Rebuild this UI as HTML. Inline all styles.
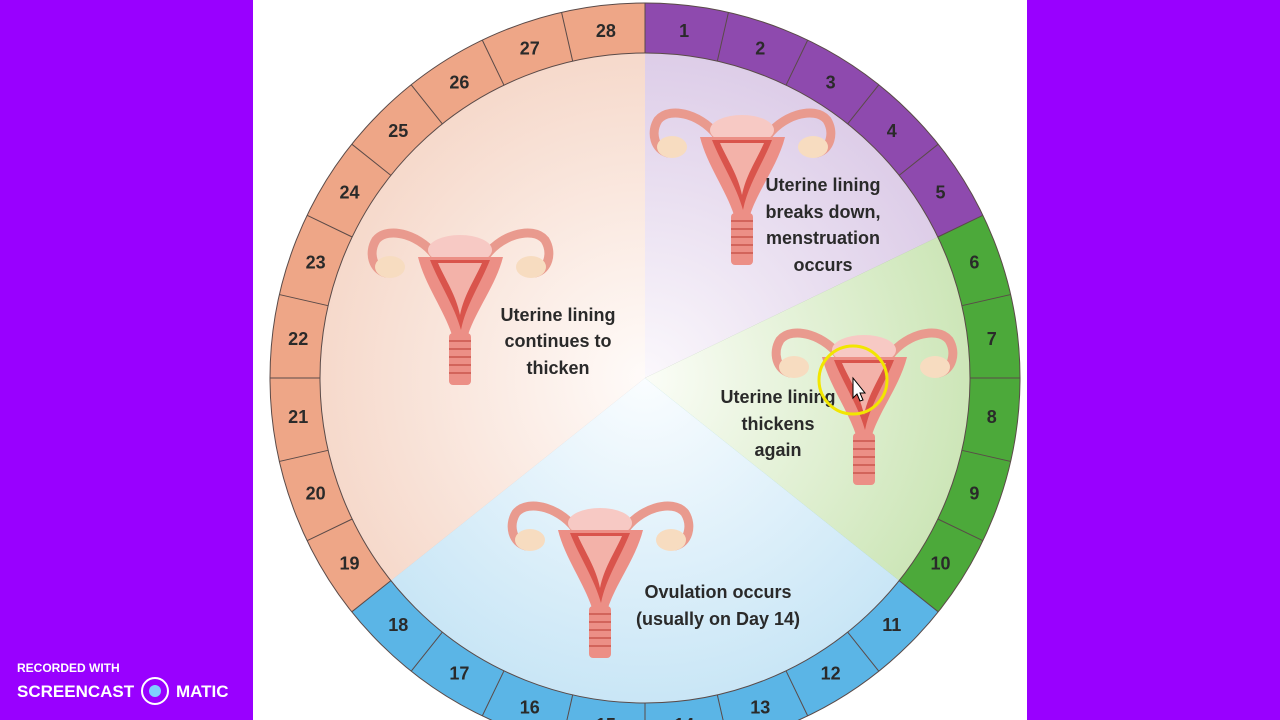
<!DOCTYPE html>
<html><head><meta charset="utf-8"><style>
html,body{margin:0;padding:0;width:1280px;height:720px;overflow:hidden;background:#9900ff;}
svg{display:block}
</style></head><body>
<svg width="1280" height="720" viewBox="0 0 1280 720" xmlns="http://www.w3.org/2000/svg" font-family="Liberation Sans, sans-serif">
<defs>
<radialGradient id="gP" gradientUnits="userSpaceOnUse" cx="645" cy="378" r="325"><stop offset="0" stop-color="#fbf8fc"/><stop offset="1" stop-color="#ddcde8"/></radialGradient>
<radialGradient id="gG" gradientUnits="userSpaceOnUse" cx="645" cy="378" r="325"><stop offset="0" stop-color="#fbfdf7"/><stop offset="1" stop-color="#cde6b8"/></radialGradient>
<radialGradient id="gB" gradientUnits="userSpaceOnUse" cx="645" cy="378" r="325"><stop offset="0" stop-color="#fafdff"/><stop offset="1" stop-color="#c9e6f6"/></radialGradient>
<radialGradient id="gS" gradientUnits="userSpaceOnUse" cx="645" cy="378" r="325"><stop offset="0" stop-color="#fffbf9"/><stop offset="1" stop-color="#f6d9cb"/></radialGradient>
<g id="ut">
 <path d="M70,45 C55,20 20,10 8,25 C0,38 5,55 18,58" fill="none" stroke="#e99a8e" stroke-width="9" stroke-linecap="round"/>
 <path d="M115,45 C130,20 165,10 177,25 C185,38 180,55 167,58" fill="none" stroke="#e99a8e" stroke-width="9" stroke-linecap="round"/>
 <ellipse cx="22" cy="52" rx="15" ry="11" fill="#f7dcc0"/>
 <ellipse cx="163" cy="52" rx="15" ry="11" fill="#f7dcc0"/>
 <ellipse cx="92" cy="35" rx="32" ry="15" fill="#f7c9c4"/>
 <path d="M50,42 L135,42 C128,70 108,95 100,120 L84,120 C76,95 57,70 50,42 Z" fill="#ec8f86"/>
 <path d="M62,45 L122,45 C112,70 98,90 93,115 C86,90 72,70 62,45 Z" fill="#d9544c"/>
 <path d="M70,48 L114,48 C106,66 96,80 92,100 C88,80 78,66 70,48 Z" fill="#f3b2a9"/>
 <rect x="81" y="118" width="22" height="52" rx="4" fill="#ec8f86"/>
 <g stroke="#c9574d" stroke-width="1.5"><line x1="81" y1="126" x2="103" y2="126"/><line x1="81" y1="134" x2="103" y2="134"/><line x1="81" y1="142" x2="103" y2="142"/><line x1="81" y1="150" x2="103" y2="150"/><line x1="81" y1="158" x2="103" y2="158"/></g>
</g>
</defs>
<rect x="253" y="0" width="774" height="720" fill="#fff"/>
<!-- outer ring -->
<path d="M645,378 L645,3 A375,375 0 0 1 982.9,215.3 Z" fill="#8e4aae"/>
<path d="M645,378 L982.9,215.3 A375,375 0 0 1 938.2,611.8 Z" fill="#4ca93a"/>
<path d="M645,378 L938.2,611.8 A375,375 0 0 1 351.8,611.8 Z" fill="#5bb5e6"/>
<path d="M645,378 L351.8,611.8 A375,375 0 0 1 645,3 Z" fill="#eea687"/>
<!-- inner -->
<path d="M645,378 L645,53 A325,325 0 0 1 937.8,237 Z" fill="url(#gP)"/>
<path d="M645,378 L937.8,237 A325,325 0 0 1 899.1,580.6 Z" fill="url(#gG)"/>
<path d="M645,378 L899.1,580.6 A325,325 0 0 1 390.9,580.6 Z" fill="url(#gB)"/>
<path d="M645,378 L390.9,580.6 A325,325 0 0 1 645,53 Z" fill="url(#gS)"/>
<circle cx="645" cy="378" r="325" fill="none" stroke="#5a4a48" stroke-width="1"/>
<circle cx="645" cy="378" r="375" fill="none" stroke="#5a4a48" stroke-width="1"/>
<g stroke="#5a4a48" stroke-width="1">
<line x1="645" y1="3" x2="645" y2="53"/>
<line x1="645" y1="3" x2="645" y2="53" transform="rotate(12.857 645 378)"/>
<line x1="645" y1="3" x2="645" y2="53" transform="rotate(25.714 645 378)"/>
<line x1="645" y1="3" x2="645" y2="53" transform="rotate(38.571 645 378)"/>
<line x1="645" y1="3" x2="645" y2="53" transform="rotate(51.429 645 378)"/>
<line x1="645" y1="3" x2="645" y2="53" transform="rotate(64.286 645 378)"/>
<line x1="645" y1="3" x2="645" y2="53" transform="rotate(77.143 645 378)"/>
<line x1="645" y1="3" x2="645" y2="53" transform="rotate(90 645 378)"/>
<line x1="645" y1="3" x2="645" y2="53" transform="rotate(102.857 645 378)"/>
<line x1="645" y1="3" x2="645" y2="53" transform="rotate(115.714 645 378)"/>
<line x1="645" y1="3" x2="645" y2="53" transform="rotate(128.571 645 378)"/>
<line x1="645" y1="3" x2="645" y2="53" transform="rotate(141.429 645 378)"/>
<line x1="645" y1="3" x2="645" y2="53" transform="rotate(154.286 645 378)"/>
<line x1="645" y1="3" x2="645" y2="53" transform="rotate(167.143 645 378)"/>
<line x1="645" y1="3" x2="645" y2="53" transform="rotate(180 645 378)"/>
<line x1="645" y1="3" x2="645" y2="53" transform="rotate(192.857 645 378)"/>
<line x1="645" y1="3" x2="645" y2="53" transform="rotate(205.714 645 378)"/>
<line x1="645" y1="3" x2="645" y2="53" transform="rotate(218.571 645 378)"/>
<line x1="645" y1="3" x2="645" y2="53" transform="rotate(231.429 645 378)"/>
<line x1="645" y1="3" x2="645" y2="53" transform="rotate(244.286 645 378)"/>
<line x1="645" y1="3" x2="645" y2="53" transform="rotate(257.143 645 378)"/>
<line x1="645" y1="3" x2="645" y2="53" transform="rotate(270 645 378)"/>
<line x1="645" y1="3" x2="645" y2="53" transform="rotate(282.857 645 378)"/>
<line x1="645" y1="3" x2="645" y2="53" transform="rotate(295.714 645 378)"/>
<line x1="645" y1="3" x2="645" y2="53" transform="rotate(308.571 645 378)"/>
<line x1="645" y1="3" x2="645" y2="53" transform="rotate(321.429 645 378)"/>
<line x1="645" y1="3" x2="645" y2="53" transform="rotate(334.286 645 378)"/>
<line x1="645" y1="3" x2="645" y2="53" transform="rotate(347.143 645 378)"/>
</g>
<g font-size="18" font-weight="bold" fill="#2a2a2a" text-anchor="middle">
<g transform="rotate(6.43 645 378)"><text x="645" y="35" transform="rotate(-6.43 645 29)">1</text></g>
<g transform="rotate(19.29 645 378)"><text x="645" y="35" transform="rotate(-19.29 645 29)">2</text></g>
<g transform="rotate(32.14 645 378)"><text x="645" y="35" transform="rotate(-32.14 645 29)">3</text></g>
<g transform="rotate(45 645 378)"><text x="645" y="35" transform="rotate(-45 645 29)">4</text></g>
<g transform="rotate(57.86 645 378)"><text x="645" y="35" transform="rotate(-57.86 645 29)">5</text></g>
<g transform="rotate(70.71 645 378)"><text x="645" y="35" transform="rotate(-70.71 645 29)">6</text></g>
<g transform="rotate(83.57 645 378)"><text x="645" y="35" transform="rotate(-83.57 645 29)">7</text></g>
<g transform="rotate(96.43 645 378)"><text x="645" y="35" transform="rotate(-96.43 645 29)">8</text></g>
<g transform="rotate(109.29 645 378)"><text x="645" y="35" transform="rotate(-109.29 645 29)">9</text></g>
<g transform="rotate(122.14 645 378)"><text x="645" y="35" transform="rotate(-122.14 645 29)">10</text></g>
<g transform="rotate(135 645 378)"><text x="645" y="35" transform="rotate(-135 645 29)">11</text></g>
<g transform="rotate(147.86 645 378)"><text x="645" y="35" transform="rotate(-147.86 645 29)">12</text></g>
<g transform="rotate(160.71 645 378)"><text x="645" y="35" transform="rotate(-160.71 645 29)">13</text></g>
<g transform="rotate(173.57 645 378)"><text x="645" y="35" transform="rotate(-173.57 645 29)">14</text></g>
<g transform="rotate(186.43 645 378)"><text x="645" y="35" transform="rotate(-186.43 645 29)">15</text></g>
<g transform="rotate(199.29 645 378)"><text x="645" y="35" transform="rotate(-199.29 645 29)">16</text></g>
<g transform="rotate(212.14 645 378)"><text x="645" y="35" transform="rotate(-212.14 645 29)">17</text></g>
<g transform="rotate(225 645 378)"><text x="645" y="35" transform="rotate(-225 645 29)">18</text></g>
<g transform="rotate(237.86 645 378)"><text x="645" y="35" transform="rotate(-237.86 645 29)">19</text></g>
<g transform="rotate(250.71 645 378)"><text x="645" y="35" transform="rotate(-250.71 645 29)">20</text></g>
<g transform="rotate(263.57 645 378)"><text x="645" y="35" transform="rotate(-263.57 645 29)">21</text></g>
<g transform="rotate(276.43 645 378)"><text x="645" y="35" transform="rotate(-276.43 645 29)">22</text></g>
<g transform="rotate(289.29 645 378)"><text x="645" y="35" transform="rotate(-289.29 645 29)">23</text></g>
<g transform="rotate(302.14 645 378)"><text x="645" y="35" transform="rotate(-302.14 645 29)">24</text></g>
<g transform="rotate(315 645 378)"><text x="645" y="35" transform="rotate(-315 645 29)">25</text></g>
<g transform="rotate(327.86 645 378)"><text x="645" y="35" transform="rotate(-327.86 645 29)">26</text></g>
<g transform="rotate(340.71 645 378)"><text x="645" y="35" transform="rotate(-340.71 645 29)">27</text></g>
<g transform="rotate(353.57 645 378)"><text x="645" y="35" transform="rotate(-353.57 645 29)">28</text></g>
</g>
<use href="#ut" x="650" y="95"/>
<use href="#ut" x="368" y="215"/>
<use href="#ut" x="508" y="488"/>
<use href="#ut" x="772" y="315"/>
<g font-size="18" font-weight="bold" fill="#2a2a2a" text-anchor="middle">
<text x="823" y="191">Uterine lining</text>
<text x="823" y="218">breaks down,</text>
<text x="823" y="244">menstruation</text>
<text x="823" y="271">occurs</text>
<text x="558" y="321">Uterine lining</text>
<text x="558" y="347">continues to</text>
<text x="558" y="374">thicken</text>
<text x="778" y="403">Uterine lining</text>
<text x="778" y="430">thickens</text>
<text x="778" y="456">again</text>
<text x="718" y="598">Ovulation occurs</text>
<text x="718" y="625">(usually on Day 14)</text>
</g>
<circle cx="853" cy="380" r="34" fill="none" stroke="#f2e600" stroke-width="3"/>
<path d="M853,378 L853,398 L857,394 L860,401 L863,400 L860,393 L865,393 Z" fill="#fff" stroke="#000" stroke-width="1"/>
<text x="17" y="672" font-size="12" font-weight="bold" fill="#fff">RECORDED WITH</text>
<text x="17" y="697" font-size="17" font-weight="bold" fill="#fff">SCREENCAST</text>
<circle cx="155" cy="691" r="13" fill="none" stroke="#fff" stroke-width="2"/>
<circle cx="155" cy="691" r="6" fill="#7fd0ff"/>
<text x="176" y="697" font-size="17" font-weight="bold" fill="#fff">MATIC</text>
</svg>
</body></html>
